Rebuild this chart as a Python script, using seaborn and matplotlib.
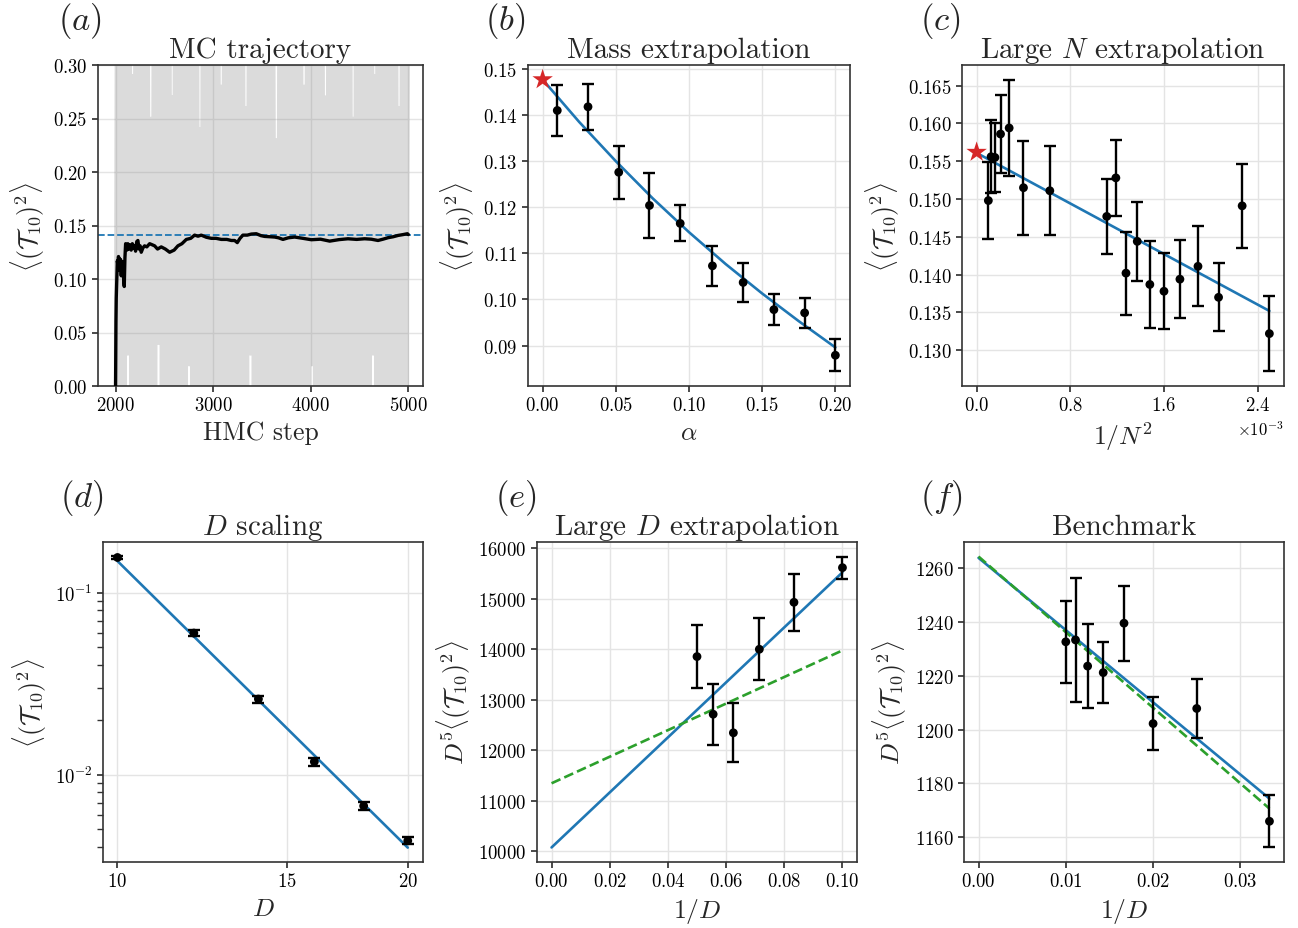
#!/usr/bin/env python
"""Six-panel summary of the T_10 moment: MC run, mass / N / D extrapolations."""

import matplotlib

matplotlib.use("Agg")

import matplotlib.pyplot as plt
import numpy as np
import seaborn as sns
from matplotlib.ticker import FixedLocator, MultipleLocator, NullLocator, ScalarFormatter

BLUE = "#1f77b4"
RED = "#d62728"
GREEN = "#2ca02c"

# (a) raw HMC trace (values read as alternating highs/lows) and running mean
trace_values = [
    0.00, 0.55, 0.00, 0.41, 0.00, 0.63, 0.00, 0.36, 0.03, 0.72, 0.00, 0.29, 0.00, 0.48, 0.00, 0.58,
    0.00, 0.33, 0.00, 0.66, 0.00, 0.44, 0.00, 0.25, 0.00, 0.52, 0.00, 0.39, 0.04, 0.61, 0.00, 0.47,
    0.00, 0.35, 0.00, 0.57, 0.00, 0.27, 0.00, 0.69, 0.00, 0.43, 0.00, 0.51, 0.00, 0.31, 0.00, 0.64,
    0.02, 0.46, 0.00, 0.38, 0.00, 0.59, 0.00, 0.24, 0.00, 0.53, 0.00, 0.71, 0.00, 0.42, 0.00, 0.34,
    0.00, 0.56, 0.00, 0.49, 0.00, 0.28, 0.00, 0.62, 0.00, 0.45, 0.00, 0.37, 0.00, 0.68, 0.00, 0.50,
    0.00, 0.32, 0.00, 0.58, 0.00, 0.26, 0.00, 0.47, 0.03, 0.65, 0.00, 0.40, 0.00, 0.54, 0.00, 0.30,
    0.00, 0.60, 0.00, 0.44, 0.00, 0.73, 0.00, 0.36, 0.00, 0.23, 0.00, 0.55, 0.00, 0.48, 0.00, 0.62,
    0.00, 0.39, 0.00, 0.57, 0.00, 0.33, 0.00, 0.66, 0.00, 0.45, 0.00, 0.28, 0.00, 0.52, 0.00, 0.70,
    0.02, 0.41, 0.00, 0.35, 0.00, 0.59, 0.00, 0.46, 0.00, 0.27, 0.00, 0.63, 0.00, 0.50, 0.00, 0.38,
    0.00, 0.56, 0.00, 0.31, 0.00, 0.67, 0.00, 0.43, 0.00, 0.53, 0.00, 0.25, 0.00, 0.61, 0.00, 0.47,
    0.00, 0.36, 0.00, 0.58, 0.00, 0.42, 0.00, 0.69, 0.03, 0.29, 0.00, 0.54, 0.00, 0.49, 0.00, 0.40,
    0.00, 0.64, 0.00, 0.34, 0.00, 0.57, 0.00, 0.45, 0.00, 0.26, 0.00, 0.60, 0.00, 0.51, 0.00, 0.37,
]
trace_start, trace_stop = 2000, 5000

run_step = [2000, 2004, 2007, 2012, 2018, 2024, 2030, 2036, 2041, 2047, 2052, 2058, 2064, 2070,
            2075, 2082, 2089, 2096, 2103, 2109, 2116, 2126, 2135, 2145, 2160, 2172, 2185, 2194,
            2205, 2217, 2229, 2240, 2252, 2263, 2280, 2297, 2320, 2349, 2375, 2400, 2430, 2468,
            2510, 2554, 2600, 2639, 2680, 2725, 2770, 2810, 2845, 2878, 2930, 2981, 3030, 3083,
            3140, 3186, 3220, 3247, 3275, 3305, 3350, 3391, 3442, 3490, 3527, 3580, 3630, 3670,
            3715, 3770, 3835, 3920, 4006, 4100, 4194, 4290, 4381, 4470, 4552, 4620, 4689, 4740,
            4792, 4845, 4894, 4945, 4990, 5000]
run_mean = [0.000, 0.060, 0.082, 0.098, 0.117, 0.113, 0.121, 0.108, 0.119, 0.112, 0.118, 0.103,
            0.115, 0.109, 0.116, 0.101, 0.093, 0.120, 0.133, 0.131, 0.127, 0.133, 0.128, 0.132,
            0.127, 0.133, 0.129, 0.131, 0.126, 0.135, 0.136, 0.128, 0.131, 0.125, 0.129, 0.131,
            0.130, 0.133, 0.132, 0.131, 0.128, 0.130, 0.128, 0.125, 0.127, 0.131, 0.133, 0.137,
            0.138, 0.141, 0.140, 0.141, 0.139, 0.138, 0.138, 0.137, 0.137, 0.136, 0.136, 0.134,
            0.138, 0.141, 0.141, 0.142, 0.1423, 0.1405, 0.1398, 0.1395, 0.1392, 0.1385, 0.137,
            0.1385, 0.1392, 0.1380, 0.1367, 0.1372, 0.1354, 0.1368, 0.1376, 0.1370, 0.1376,
            0.1372, 0.136, 0.1372, 0.1386, 0.1395, 0.1407, 0.1415, 0.1423, 0.1415]
final_mean = 0.1407

# (b) mass extrapolation
mass_alpha = [0.010, 0.031, 0.052, 0.073, 0.094, 0.116, 0.137, 0.158, 0.179, 0.200]
mass_val = [0.1410, 0.1418, 0.1276, 0.1204, 0.1165, 0.1073, 0.1037, 0.0978, 0.0971, 0.0879]
mass_err = [0.0055, 0.0050, 0.0058, 0.0070, 0.0039, 0.0044, 0.0043, 0.0033, 0.0033, 0.0035]
mass_fit_alpha = [0.0, 0.025, 0.05, 0.075, 0.1, 0.125, 0.15, 0.175, 0.2]
mass_fit_val = [0.1477, 0.1385, 0.1300, 0.1220, 0.1146, 0.1077, 0.1013, 0.0953, 0.0896]
mass_limit = 0.1477

# (c) large N extrapolation
n_values = [100, 90, 80, 70, 60, 50, 40, 30, 29, 28, 27, 26, 25, 24, 23, 22, 21, 20]
n_val = [0.1498, 0.1556, 0.1555, 0.1586, 0.1594, 0.1515, 0.1511, 0.1477, 0.1528, 0.1402,
         0.1444, 0.1387, 0.1378, 0.1394, 0.1411, 0.1370, 0.1491, 0.1322]
n_err = [0.0051, 0.0048, 0.0046, 0.0052, 0.0064, 0.0062, 0.0059, 0.0050, 0.0050, 0.0055,
         0.0052, 0.0058, 0.0050, 0.0052, 0.0053, 0.0045, 0.0056, 0.0050]
n_fit_x = [0.0, 0.0025]
n_fit_val = [0.1561, 0.1352]
n_limit = 0.1562

# (d)/(e) D scaling: D^5 <T^2>
d_values = [10, 12, 14, 16, 18, 20]
d5_val = [15618, 14932, 14003, 12349, 12717, 13858]
d5_err = [220, 570, 613, 583, 605, 620]
d_fit_x = [10, 20]
d_fit_val = [0.1493, 0.00397]
e_fit_x = [0.0, 0.1]
e_fit_lin = [10080, 15525]
e_fit_alt = [11350, 13980]

# (f) benchmark
bench_d = [100, 90, 80, 70, 60, 50, 40, 30]
bench_val = [1232.5, 1233.2, 1223.5, 1221.1, 1239.4, 1202.2, 1207.8, 1166.0]
bench_err = [15.3, 23.0, 15.5, 11.4, 13.9, 9.9, 11.0, 9.7]
bench_fit_x = [0.0, 1 / 30]
bench_fit_lin = [1263.6, 1174.4]
bench_fit_alt = [1264.1, 1170.7]

YLAB = r"$\langle (\mathcal{T}_{10})^2\rangle$"
YLAB5 = r"$D^5\langle (\mathcal{T}_{10})^2\rangle$"

W, H = 1298, 929
# axes boxes in pixels: left, top, right, bottom
BOXES = {
    "a": (98, 66, 423, 387),
    "b": (528, 66, 850, 387),
    "c": (962, 66, 1284, 387),
    "d": (103, 543, 423, 863),
    "e": (537, 543, 857, 863),
    "f": (964, 543, 1284, 863),
}
LABEL_POS = {"a": (58, 21), "b": (485, 21), "c": (920, 21),
             "d": (60, 498), "e": (495, 498), "f": (920, 498)}


def make_axes(fig, key):
    l, t, r, b = BOXES[key]
    ax = fig.add_axes([l / W, 1 - b / H, (r - l) / W, (b - t) / H])
    ax.grid(True, color="#e4e4e4", linewidth=1.0)
    ax.set_axisbelow(True)
    x, y = LABEL_POS[key]
    fig.text(x / W, 1 - y / H, rf"$({key})$", fontsize=25, ha="left", va="center")
    return ax


def points_with_errors(ax, x, y, err):
    ax.errorbar(x, y, yerr=err, fmt="none", ecolor="black", elinewidth=1.7,
                capsize=4.5, capthick=1.7, zorder=3)
    sns.scatterplot(x=x, y=y, ax=ax, color="black", s=40, edgecolor="none", zorder=4)


def fit_line(ax, x, y, color=BLUE, dashed=False):
    sns.lineplot(x=x, y=y, ax=ax, color=color, linewidth=1.9,
                 linestyle="--" if dashed else "-", zorder=2)


def star(ax, y):
    sns.scatterplot(x=[0.0], y=[y], ax=ax, marker="*", s=240, color=RED,
                    edgecolor="none", zorder=5)


def main() -> None:
    sns.set_theme(style="ticks")
    plt.rcParams.update({
        "font.family": "serif",
        "font.serif": ["cmr10", "DejaVu Serif"],
        "mathtext.fontset": "cm",
        "axes.formatter.use_mathtext": True,
        "axes.edgecolor": "#333333",
        "axes.linewidth": 1.2,
        "xtick.color": "#333333",
        "ytick.color": "#333333",
        "xtick.labelcolor": "black",
        "ytick.labelcolor": "black",
        "xtick.major.size": 4,
        "ytick.major.size": 4,
        "xtick.labelsize": 13.5,
        "ytick.labelsize": 13.5,
        "axes.titlesize": 21,
        "axes.labelsize": 18.5,
    })

    fig = plt.figure(figsize=(W / 100, H / 100), dpi=100)

    # (a) MC trajectory
    ax = make_axes(fig, "a")
    steps = np.linspace(trace_start, trace_stop, len(trace_values))
    sns.lineplot(x=steps, y=trace_values, ax=ax, color="gray", alpha=0.28,
                 linewidth=2.6, zorder=1)
    ax.axhline(final_mean, color=BLUE, linestyle="--", linewidth=1.3, zorder=2)
    sns.lineplot(x=run_step, y=run_mean, ax=ax, color="black", linewidth=2.4, zorder=3)
    ax.set_xlim(1820, 5150)
    ax.set_ylim(0, 0.30)
    ax.set_xticks([2000, 3000, 4000, 5000])
    ax.set_title("MC trajectory")
    ax.set_xlabel("HMC step")
    ax.set_ylabel(YLAB)

    # (b) mass extrapolation
    ax = make_axes(fig, "b")
    fit_line(ax, mass_fit_alpha, mass_fit_val)
    points_with_errors(ax, mass_alpha, mass_val, mass_err)
    star(ax, mass_limit)
    ax.yaxis.set_major_locator(MultipleLocator(0.01))
    ax.set_title("Mass extrapolation")
    ax.set_xlabel(r"$\alpha$")
    ax.set_ylabel(YLAB)

    # (c) large N extrapolation
    ax = make_axes(fig, "c")
    inv_n2 = [1 / n ** 2 for n in n_values]
    fit_line(ax, n_fit_x, n_fit_val)
    points_with_errors(ax, inv_n2, n_val, n_err)
    star(ax, n_limit)
    ax.set_xticks([0.0, 0.0008, 0.0016, 0.0024])
    ax.yaxis.set_major_locator(MultipleLocator(0.005))
    ax.ticklabel_format(axis="x", style="sci", scilimits=(-3, -3), useMathText=True)
    ax.xaxis.get_offset_text().set_fontsize(12)
    ax.set_title(r"Large $N$ extrapolation")
    ax.set_xlabel(r"$1/N^2$")
    ax.set_ylabel(YLAB)

    # (d) D scaling, log-log
    ax = make_axes(fig, "d")
    ax.set_xscale("log")
    ax.set_yscale("log")
    d_val = [v / d ** 5 for v, d in zip(d5_val, d_values)]
    d_err = [e / d ** 5 for e, d in zip(d5_err, d_values)]
    fit_line(ax, d_fit_x, d_fit_val)
    points_with_errors(ax, d_values, d_val, d_err)
    ax.set_xlim(9.66, 20.74)
    ax.set_ylim(0.00331, 0.19)
    ax.xaxis.set_major_locator(FixedLocator([10, 15, 20]))
    ax.xaxis.set_major_formatter(ScalarFormatter())
    ax.xaxis.set_minor_locator(NullLocator())
    ax.set_title(r"$D$ scaling")
    ax.set_xlabel(r"$D$")
    ax.set_ylabel(YLAB)

    # (e) large D extrapolation
    ax = make_axes(fig, "e")
    inv_d = [1 / d for d in d_values]
    fit_line(ax, e_fit_x, e_fit_lin)
    fit_line(ax, e_fit_x, e_fit_alt, color=GREEN, dashed=True)
    points_with_errors(ax, inv_d, d5_val, d5_err)
    ax.xaxis.set_major_locator(MultipleLocator(0.02))
    ax.set_title(r"Large $D$ extrapolation")
    ax.set_xlabel(r"$1/D$")
    ax.set_ylabel(YLAB5)

    # (f) benchmark
    ax = make_axes(fig, "f")
    inv_bench = [1 / d for d in bench_d]
    fit_line(ax, bench_fit_x, bench_fit_lin)
    fit_line(ax, bench_fit_x, bench_fit_alt, color=GREEN, dashed=True)
    points_with_errors(ax, inv_bench, bench_val, bench_err)
    ax.set_title("Benchmark")
    ax.set_xlabel(r"$1/D$")
    ax.set_ylabel(YLAB5)

    fig.savefig("out.png", dpi=100)
    plt.close(fig)


if __name__ == "__main__":
    main()
